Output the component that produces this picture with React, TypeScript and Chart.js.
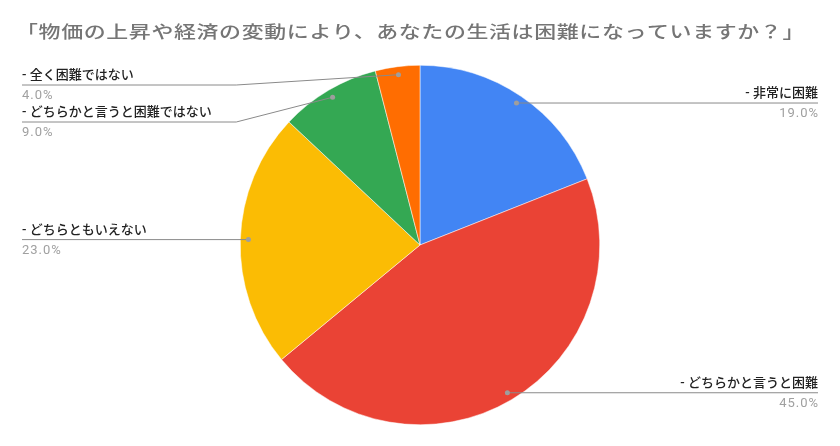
import { useEffect, useRef } from 'react'
import { Chart, registerables } from 'chart.js'

Chart.register(...registerables)

const TITLE = '「物価の上昇や経済の変動により、あなたの生活は困難になっていますか？」'
const CATEGORIES = ['非常に困難', 'どちらかと言うと困難', 'どちらともいえない', 'どちらかと言うと困難ではない', '全く困難ではない']
const VALUES = [19, 45, 23, 9, 4]
const COLORS = ['#4285f4', '#ea4335', '#fbbc04', '#34a853', '#ff6d01']

const FONT = 'Roboto, "Noto Sans CJK JP", sans-serif'
const LABEL_LEFT = 22
const LABEL_RIGHT = 818
const LABEL_TOP = 85
const LABEL_GAP = 37

const sliceLabels = {
  id: 'sliceLabels',
  afterDraw(chart: any) {
    const ctx: CanvasRenderingContext2D = chart.ctx
    const meta = chart.getDatasetMeta(0)
    const total = VALUES.reduce((a, b) => a + b, 0)

    // title, drawn a little wide like the original
    ctx.save()
    ctx.font = `500 17px ${FONT}`
    ;(ctx as any).letterSpacing = '0.5px'
    const w = ctx.measureText(TITLE).width
    ctx.translate(16, 34)
    ctx.scale(789 / w, 1)
    ctx.fillStyle = '#757575'
    ctx.textBaseline = 'middle'
    ctx.fillText(TITLE, 0, 0)
    ctx.restore()

    const items = meta.data.map((arc: any, i: number) => {
      const p = arc.getProps(['x', 'y', 'startAngle', 'endAngle', 'outerRadius'], true)
      const mid = (p.startAngle + p.endAngle) / 2
      const r = p.outerRadius * 0.955
      return {
        i,
        cx: p.x,
        R: p.outerRadius,
        dx: p.x + Math.cos(mid) * r,
        dy: p.y + Math.sin(mid) * r,
        left: Math.cos(mid) < 0,
        lineY: 0,
      }
    })

    for (const side of [true, false]) {
      const list = items.filter((it: any) => it.left === side).sort((a: any, b: any) => a.dy - b.dy)
      let prev = -Infinity
      for (const it of list) {
        it.lineY = Math.max(it.dy, prev + LABEL_GAP, LABEL_TOP)
        prev = it.lineY
      }
    }

    ctx.save()
    for (const it of items) {
      ctx.strokeStyle = '#8a8a8a'
      ctx.lineWidth = 1
      ctx.beginPath()
      if (it.left) {
        const bend = it.cx - it.R - 4
        ctx.moveTo(LABEL_LEFT, it.lineY)
        if (Math.abs(it.lineY - it.dy) > 0.5) ctx.lineTo(bend, it.lineY)
        ctx.lineTo(it.dx, it.dy)
      } else {
        const bend = it.cx + it.R + 4
        ctx.moveTo(it.dx, it.dy)
        if (Math.abs(it.lineY - it.dy) > 0.5) ctx.lineTo(bend, it.lineY)
        ctx.lineTo(LABEL_RIGHT, it.lineY)
      }
      ctx.stroke()

      ctx.fillStyle = '#9e9e9e'
      ctx.beginPath()
      ctx.arc(it.dx, it.dy, 2.5, 0, Math.PI * 2)
      ctx.fill()

      const x = it.left ? LABEL_LEFT : LABEL_RIGHT
      ctx.textAlign = it.left ? 'left' : 'right'
      ctx.textBaseline = 'middle'
      ;(ctx as any).letterSpacing = '0px'
      ctx.font = `500 13px ${FONT}`
      ctx.fillStyle = '#222222'
      ctx.fillText(`- ${CATEGORIES[it.i]}`, x, it.lineY - 9)
      ;(ctx as any).letterSpacing = '1px'
      ctx.font = `13px ${FONT}`
      ctx.fillStyle = '#a0a0a0'
      ctx.fillText(`${((VALUES[it.i] / total) * 100).toFixed(1)}%`, x + (it.left ? 0 : 1), it.lineY + 11)
    }
    ctx.restore()
  },
}

export default function App() {
  const canvasRef = useRef<HTMLCanvasElement>(null)
  const chartRef = useRef<any>(null)

  useEffect(() => {
    if (!canvasRef.current) return
    document.body.style.margin = '0'
    if (chartRef.current) chartRef.current.destroy()

    chartRef.current = new Chart(canvasRef.current, {
      type: 'pie',
      data: {
        labels: CATEGORIES,
        datasets: [
          {
            data: VALUES,
            backgroundColor: COLORS,
            borderColor: '#ffffff',
            borderWidth: 0.5,
          },
        ],
      },
      options: {
        responsive: true,
        maintainAspectRatio: false,
        animation: false,
        layout: { padding: { top: 65, bottom: 21, left: 0, right: 0 } },
        plugins: {
          legend: { display: false },
          tooltip: { enabled: false },
          title: { display: false },
        },
      },
      plugins: [sliceLabels],
    })

    return () => { if (chartRef.current) chartRef.current.destroy() }
  }, [])

  return (
    <div style={{ position: 'absolute', left: 0, top: 0, width: 840, height: 446, background: '#fff' }}>
      <canvas ref={canvasRef} />
    </div>
  )
}
